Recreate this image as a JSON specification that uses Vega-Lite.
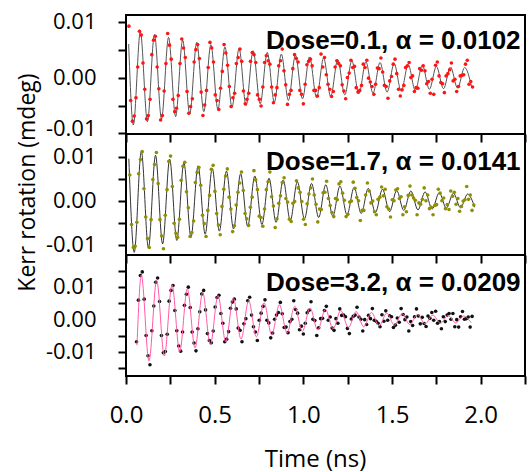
{
"$schema":"https://vega.github.io/schema/vega-lite/v6.json",
"padding":{"left":15,"top":9,"right":5,"bottom":0},
"bounds":"flush",
"spacing":0,
"config":{
 "view":{"stroke":"black","strokeWidth":2},
 "axis":{"domain":false,"grid":false,"tickColor":"black","tickWidth":2,"tickSize":8,"labelColor":"black","titleColor":"black","labelFont":"Open Sans","titleFont":"Open Sans","titleFontWeight":"normal","labelOverlap":false,"labelFlush":false,"labelBound":false,"titleLimit":1000,"labelLimit":1000},
 "axisY":{"labelFontSize":22,"labelPadding":22,"titleFontSize":23}
},
"datasets":{
"d1":[{"t":0.0164,"v":0.0092},{"t":0.0263,"v":-0.0041},{"t":0.0363,"v":-0.0078},{"t":0.0462,"v":-0.0069},{"t":0.0562,"v":-0.0036},{"t":0.0661,"v":0.0019},{"t":0.076,"v":0.0083},
{"t":0.086,"v":0.0076},{"t":0.0959,"v":0.0026},{"t":0.1058,"v":-0.0021},{"t":0.1158,"v":-0.0074},{"t":0.1257,"v":-0.0068},{"t":0.1357,"v":-0.0039},{"t":0.1456,"v":0.0041},{"t":0.1555,"v":0.0067},
{"t":0.1655,"v":0.0074},{"t":0.1754,"v":0.0019},{"t":0.1853,"v":-0.002},{"t":0.1953,"v":-0.0076},{"t":0.2052,"v":-0.0068},{"t":0.2152,"v":-0.0024},{"t":0.2251,"v":0.0025},{"t":0.235,"v":0.0079},
{"t":0.245,"v":0.0058},{"t":0.2549,"v":0.0033},{"t":0.2648,"v":-0.0039},{"t":0.2748,"v":-0.0061},{"t":0.2847,"v":-0.0055},{"t":0.2947,"v":-0.0032},{"t":0.3046,"v":0.0025},{"t":0.3145,"v":0.0069},
{"t":0.3245,"v":0.0053},{"t":0.3344,"v":0.0036},{"t":0.3443,"v":-0.0025},{"t":0.3543,"v":-0.0064},{"t":0.3642,"v":-0.0052},{"t":0.3742,"v":-0.0038},{"t":0.3841,"v":0.0028},{"t":0.394,"v":0.005},
{"t":0.404,"v":0.0059},{"t":0.4139,"v":0.0034},{"t":0.4238,"v":-0.0026},{"t":0.4338,"v":-0.0068},{"t":0.4437,"v":-0.0049},{"t":0.4537,"v":-0.0023},{"t":0.4636,"v":0.0018},{"t":0.4735,"v":0.0063},
{"t":0.4835,"v":0.0053},{"t":0.4934,"v":0.0028},{"t":0.5033,"v":-0.0031},{"t":0.5133,"v":-0.0041},{"t":0.5232,"v":-0.0057},{"t":0.5332,"v":-0.0019},{"t":0.5431,"v":0.0011},{"t":0.553,"v":0.0059},
{"t":0.563,"v":0.0044},{"t":0.5729,"v":0.0022},{"t":0.5828,"v":-0.0016},{"t":0.5928,"v":-0.0052},{"t":0.6027,"v":-0.0036},{"t":0.6127,"v":-0.0028},{"t":0.6226,"v":0.0025},{"t":0.6325,"v":0.0036},
{"t":0.6425,"v":0.0051},{"t":0.6524,"v":0.0029},{"t":0.6623,"v":-0.0024},{"t":0.6723,"v":-0.0047},{"t":0.6822,"v":-0.0039},{"t":0.6922,"v":-0.0028},{"t":0.7021,"v":0.0029},{"t":0.712,"v":0.0045},
{"t":0.722,"v":0.0041},{"t":0.7319,"v":0.0027},{"t":0.7418,"v":-0.0031},{"t":0.7518,"v":-0.0039},{"t":0.7617,"v":-0.0051},{"t":0.7717,"v":-0.0017},{"t":0.7816,"v":0.0027},{"t":0.7915,"v":0.0039},
{"t":0.8015,"v":0.003},{"t":0.8114,"v":0.0024},{"t":0.8213,"v":-0.0017},{"t":0.8313,"v":-0.0045},{"t":0.8412,"v":-0.0031},{"t":0.8512,"v":-0.0018},{"t":0.8611,"v":0.0021},{"t":0.871,"v":0.003},
{"t":0.881,"v":0.0051},{"t":0.8909,"v":0.0012},{"t":0.9008,"v":-0.0013},{"t":0.9108,"v":-0.0048},{"t":0.9207,"v":-0.003},{"t":0.9307,"v":-0.0023},{"t":0.9406,"v":0.0016},{"t":0.9505,"v":0.0041},
{"t":0.9605,"v":0.0034},{"t":0.9704,"v":0.0028},{"t":0.9803,"v":-0.0023},{"t":0.9903,"v":-0.003},{"t":1.0002,"v":-0.0047},{"t":1.0102,"v":-0.0012},{"t":1.0201,"v":0.0023},{"t":1.03,"v":0.0029},
{"t":1.04,"v":0.0033},{"t":1.0499,"v":0.0021},{"t":1.0598,"v":-0.0023},{"t":1.0698,"v":-0.0023},{"t":1.0797,"v":-0.0033},{"t":1.0897,"v":-0.0018},{"t":1.0996,"v":0.0042},{"t":1.1095,"v":0.0019},
{"t":1.1195,"v":0.0036},{"t":1.1294,"v":0.0005},{"t":1.1393,"v":-0.0012},{"t":1.1493,"v":-0.0021},{"t":1.1592,"v":-0.0034},{"t":1.1692,"v":-0.0025},{"t":1.1791,"v":0.0019},{"t":1.189,"v":0.003},
{"t":1.199,"v":0.0025},{"t":1.2089,"v":0.0021},{"t":1.2188,"v":-0.0013},{"t":1.2288,"v":-0.0024},{"t":1.2387,"v":-0.0038},{"t":1.2487,"v":0.0},{"t":1.2586,"v":0.0008},{"t":1.2685,"v":0.0031},
{"t":1.2785,"v":0.0018},{"t":1.2884,"v":0.002},{"t":1.2983,"v":-0.0018},{"t":1.3083,"v":-0.0026},{"t":1.3182,"v":-0.0023},{"t":1.3282,"v":-0.0014},{"t":1.3381,"v":0.0024},{"t":1.348,"v":0.0018},
{"t":1.358,"v":0.0031},{"t":1.3679,"v":-0.0001},{"t":1.3778,"v":-0.0008},{"t":1.3878,"v":-0.0016},{"t":1.3977,"v":-0.003},{"t":1.4077,"v":-0.0012},{"t":1.4176,"v":0.0017},{"t":1.4275,"v":0.0016},
{"t":1.4375,"v":0.0035},{"t":1.4474,"v":0.001},{"t":1.4573,"v":-0.0014},{"t":1.4673,"v":-0.0016},{"t":1.4772,"v":-0.0037},{"t":1.4872,"v":-0.0006},{"t":1.4971,"v":0.0002},{"t":1.507,"v":0.0024},
{"t":1.517,"v":0.0033},{"t":1.5269,"v":0.0007},{"t":1.5368,"v":-0.0021},{"t":1.5468,"v":-0.0033},{"t":1.5567,"v":-0.0022},{"t":1.5667,"v":-0.0014},{"t":1.5766,"v":0.0018},{"t":1.5865,"v":0.0021},
{"t":1.5965,"v":0.0027},{"t":1.6064,"v":0.0},{"t":1.6163,"v":0.0003},{"t":1.6263,"v":-0.0025},{"t":1.6362,"v":-0.0018},{"t":1.6462,"v":-0.0019},{"t":1.6561,"v":0.0016},{"t":1.666,"v":0.0013},
{"t":1.676,"v":0.0021},{"t":1.6859,"v":0.0012},{"t":1.6958,"v":-0.0011},{"t":1.7058,"v":-0.0007},{"t":1.7157,"v":-0.0028},{"t":1.7257,"v":-0.0003},{"t":1.7356,"v":-0.003},{"t":1.7455,"v":0.0022},
{"t":1.7555,"v":0.0028},{"t":1.7654,"v":0.0003},{"t":1.7753,"v":-0.0009},{"t":1.7853,"v":-0.0011},{"t":1.7952,"v":-0.0027},{"t":1.8052,"v":0.0003},{"t":1.8151,"v":0.0007},{"t":1.825,"v":0.0014},
{"t":1.835,"v":0.0026},{"t":1.8449,"v":-0.0006},{"t":1.8548,"v":-0.0003},{"t":1.8648,"v":-0.0025},{"t":1.8747,"v":-0.0016},{"t":1.8847,"v":0.0003},{"t":1.8946,"v":0.0004},{"t":1.9045,"v":0.0005},
{"t":1.9145,"v":0.0024},{"t":1.9244,"v":0.0031},{"t":1.9343,"v":-0.0012},{"t":1.9443,"v":-0.0007},{"t":1.9542,"v":-0.0017}],
"f1":[{"t":0.015,"v":0.006},{"t":0.0413,"v":-0.0085},{"t":0.081,"v":0.0082},{"t":0.1208,"v":-0.0079},{"t":0.1605,"v":0.0077},{"t":0.2003,"v":-0.0074},{"t":0.24,"v":0.0072},{"t":0.2798,"v":-0.007},{"t":0.3195,"v":0.0067},{"t":0.3593,"v":-0.0065},{"t":0.399,"v":0.0063},{"t":0.4388,"v":-0.0061},{"t":0.4785,"v":0.0059},{"t":0.5183,"v":-0.0057},{"t":0.558,"v":0.0055},{"t":0.5978,"v":-0.0053},{"t":0.6375,"v":0.0052},{"t":0.6773,"v":-0.005},{"t":0.717,"v":0.0048},{"t":0.7568,"v":-0.0047},{"t":0.7965,"v":0.0045},{"t":0.8363,"v":-0.0044},{"t":0.876,"v":0.0042},{"t":0.9158,"v":-0.0041},{"t":0.9555,"v":0.004},{"t":0.9953,"v":-0.0038},{"t":1.035,"v":0.0037},{"t":1.0748,"v":-0.0036},{"t":1.1145,"v":0.0035},{"t":1.1543,"v":-0.0034},{"t":1.194,"v":0.0032},{"t":1.2338,"v":-0.0031},{"t":1.2735,"v":0.003},{"t":1.3133,"v":-0.0029},{"t":1.353,"v":0.0028},{"t":1.3928,"v":-0.0028},{"t":1.4325,"v":0.0027},{"t":1.4723,"v":-0.0026},{"t":1.512,"v":0.0025},{"t":1.5518,"v":-0.0024},{"t":1.5915,"v":0.0023},{"t":1.6313,"v":-0.0023},{"t":1.671,"v":0.0022},{"t":1.7108,"v":-0.0021},{"t":1.7505,"v":0.002},{"t":1.7903,"v":-0.002},{"t":1.83,"v":0.0019},{"t":1.8698,"v":-0.0019},{"t":1.9095,"v":0.0018},{"t":1.9493,"v":-0.0017}],
"d2":[{"t":0.0214,"v":0.0058},{"t":0.0314,"v":-0.0054},{"t":0.0414,"v":-0.0106},{"t":0.0514,"v":-0.0103},{"t":0.0614,"v":-0.0049},{"t":0.0714,"v":0.0061},{"t":0.0814,"v":0.0093},
{"t":0.0914,"v":0.0111},{"t":0.1014,"v":0.0027},{"t":0.1114,"v":-0.0037},{"t":0.1214,"v":-0.0086},{"t":0.1314,"v":-0.0106},{"t":0.1414,"v":-0.0043},{"t":0.1514,"v":0.0048},{"t":0.1614,"v":0.0082},
{"t":0.1714,"v":0.0109},{"t":0.1814,"v":0.0039},{"t":0.1914,"v":-0.0043},{"t":0.2014,"v":-0.008},{"t":0.2114,"v":-0.0109},{"t":0.2214,"v":-0.0033},{"t":0.2314,"v":0.0025},{"t":0.2414,"v":0.0089},
{"t":0.2514,"v":0.0101},{"t":0.2614,"v":0.0032},{"t":0.2714,"v":-0.0051},{"t":0.2814,"v":-0.0074},{"t":0.2914,"v":-0.0083},{"t":0.3014,"v":-0.0042},{"t":0.3114,"v":0.0046},{"t":0.3214,"v":0.0078},
{"t":0.3314,"v":0.0087},{"t":0.3414,"v":0.002},{"t":0.3514,"v":-0.0016},{"t":0.3614,"v":-0.0081},{"t":0.3714,"v":-0.0072},{"t":0.3814,"v":-0.0046},{"t":0.3914,"v":0.0041},{"t":0.4014,"v":0.0064},
{"t":0.4114,"v":0.0075},{"t":0.4214,"v":0.0035},{"t":0.4314,"v":-0.0033},{"t":0.4414,"v":-0.0052},{"t":0.4514,"v":-0.0081},{"t":0.4614,"v":-0.0022},{"t":0.4714,"v":0.0012},{"t":0.4814,"v":0.0071},
{"t":0.4914,"v":0.008},{"t":0.5014,"v":0.0021},{"t":0.5114,"v":-0.0029},{"t":0.5214,"v":-0.0055},{"t":0.5314,"v":-0.0077},{"t":0.5414,"v":-0.0013},{"t":0.5514,"v":0.0026},{"t":0.5614,"v":0.0056},
{"t":0.5714,"v":0.0072},{"t":0.5814,"v":0.0008},{"t":0.5914,"v":-0.0019},{"t":0.6014,"v":-0.007},{"t":0.6114,"v":-0.0057},{"t":0.6214,"v":-0.001},{"t":0.6314,"v":0.0019},{"t":0.6414,"v":0.004},
{"t":0.6514,"v":0.0065},{"t":0.6614,"v":0.0023},{"t":0.6714,"v":-0.0029},{"t":0.6814,"v":-0.0041},{"t":0.6914,"v":-0.0056},{"t":0.7014,"v":-0.0015},{"t":0.7114,"v":0.0008},{"t":0.7214,"v":0.0068},
{"t":0.7314,"v":0.0047},{"t":0.7414,"v":0.0025},{"t":0.7514,"v":-0.0035},{"t":0.7614,"v":-0.0038},{"t":0.7714,"v":-0.0058},{"t":0.7814,"v":-0.0019},{"t":0.7914,"v":0.0025},{"t":0.8014,"v":0.0043},
{"t":0.8114,"v":0.0065},{"t":0.8214,"v":0.0009},{"t":0.8314,"v":-0.0012},{"t":0.8414,"v":-0.0061},{"t":0.8514,"v":-0.0041},{"t":0.8614,"v":-0.0006},{"t":0.8714,"v":0.0011},{"t":0.8814,"v":0.0041},
{"t":0.8914,"v":0.0052},{"t":0.9014,"v":0.0005},{"t":0.9114,"v":-0.0003},{"t":0.9214,"v":-0.0042},{"t":0.9314,"v":-0.0047},{"t":0.9414,"v":-0.0006},{"t":0.9514,"v":-0.0002},{"t":0.9614,"v":0.0045},
{"t":0.9714,"v":0.0029},{"t":0.9814,"v":0.0019},{"t":0.9914,"v":-0.0002},{"t":1.0014,"v":-0.0042},{"t":1.0114,"v":-0.0054},{"t":1.0214,"v":-0.0007},{"t":1.0314,"v":0.0015},{"t":1.0414,"v":0.0029},
{"t":1.0514,"v":0.0049},{"t":1.0614,"v":0.0013},{"t":1.0714,"v":-0.0008},{"t":1.0814,"v":-0.0048},{"t":1.0914,"v":-0.0019},{"t":1.1014,"v":-0.002},{"t":1.1114,"v":0.0018},{"t":1.1214,"v":0.0019},
{"t":1.1314,"v":0.0044},{"t":1.1414,"v":0.0005},{"t":1.1514,"v":-0.0011},{"t":1.1614,"v":-0.0027},{"t":1.1714,"v":-0.0036},{"t":1.1814,"v":0.0005},{"t":1.1914,"v":0.0002},{"t":1.2014,"v":0.0038},
{"t":1.2114,"v":0.0043},{"t":1.2214,"v":0.0017},{"t":1.2314,"v":0.0001},{"t":1.2414,"v":-0.0036},{"t":1.2514,"v":-0.0031},{"t":1.2614,"v":-0.0003},{"t":1.2714,"v":-0.0001},{"t":1.2814,"v":0.0042},
{"t":1.2914,"v":0.0028},{"t":1.3014,"v":0.0007},{"t":1.3114,"v":0.0},{"t":1.3214,"v":-0.0045},{"t":1.3314,"v":-0.0022},{"t":1.3414,"v":-0.0022},{"t":1.3514,"v":0.0013},{"t":1.3614,"v":0.004},
{"t":1.3714,"v":0.0022},{"t":1.3814,"v":-0.0005},{"t":1.3914,"v":-0.0001},{"t":1.4014,"v":-0.0025},{"t":1.4114,"v":-0.0032},{"t":1.4214,"v":0.0003},{"t":1.4314,"v":0.0008},{"t":1.4414,"v":0.0031},
{"t":1.4514,"v":0.0011},{"t":1.4614,"v":0.0026},{"t":1.4714,"v":-0.0014},{"t":1.4814,"v":-0.0019},{"t":1.4914,"v":-0.0037},{"t":1.5014,"v":0.0002},{"t":1.5114,"v":0.0},{"t":1.5214,"v":0.0024},
{"t":1.5314,"v":0.0027},{"t":1.5414,"v":0.0005},{"t":1.5514,"v":0.0009},{"t":1.5614,"v":-0.0032},{"t":1.5714,"v":-0.0014},{"t":1.5814,"v":-0.0025},{"t":1.5914,"v":0.0012},{"t":1.6014,"v":0.0033},
{"t":1.6114,"v":0.0013},{"t":1.6214,"v":0.0006},{"t":1.6314,"v":0.0001},{"t":1.6414,"v":-0.0032},{"t":1.6514,"v":-0.0005},{"t":1.6614,"v":-0.0008},{"t":1.6714,"v":0.0003},{"t":1.6814,"v":0.0029},
{"t":1.6914,"v":0.0},{"t":1.7014,"v":0.0013},{"t":1.7114,"v":-0.0018},{"t":1.7214,"v":-0.0015},{"t":1.7314,"v":-0.0032},{"t":1.7414,"v":-0.0011},{"t":1.7514,"v":-0.0009},{"t":1.7614,"v":0.0026},
{"t":1.7714,"v":0.0017},{"t":1.7814,"v":0.0},{"t":1.7914,"v":0.0006},{"t":1.8014,"v":-0.0018},{"t":1.8114,"v":-0.0009},{"t":1.8214,"v":-0.002},{"t":1.8314,"v":0.0022},{"t":1.8414,"v":0.001},
{"t":1.8514,"v":0.0019},{"t":1.8614,"v":-0.0008},{"t":1.8714,"v":0.0005},{"t":1.8814,"v":-0.0024},{"t":1.8914,"v":-0.0013},{"t":1.9014,"v":-0.0001},{"t":1.9114,"v":0.0002},{"t":1.9214,"v":0.0032},
{"t":1.9314,"v":0.0003},{"t":1.9414,"v":0.0013},{"t":1.9514,"v":-0.0022},{"t":1.9614,"v":-0.001}],
"f2":[{"t":0.016,"v":0.0095},{"t":0.0464,"v":-0.0117},{"t":0.0864,"v":0.0112},{"t":0.1264,"v":-0.0107},{"t":0.1664,"v":0.0103},{"t":0.2064,"v":-0.0098},{"t":0.2464,"v":0.0094},{"t":0.2864,"v":-0.009},{"t":0.3264,"v":0.0086},{"t":0.3664,"v":-0.0083},{"t":0.4064,"v":0.0079},{"t":0.4464,"v":-0.0076},{"t":0.4864,"v":0.0073},{"t":0.5264,"v":-0.0069},{"t":0.5664,"v":0.0067},{"t":0.6064,"v":-0.0064},{"t":0.6464,"v":0.0061},{"t":0.6864,"v":-0.0058},{"t":0.7264,"v":0.0056},{"t":0.7664,"v":-0.0054},{"t":0.8064,"v":0.0051},{"t":0.8464,"v":-0.0049},{"t":0.8864,"v":0.0047},{"t":0.9264,"v":-0.0045},{"t":0.9664,"v":0.0043},{"t":1.0064,"v":-0.0041},{"t":1.0464,"v":0.0039},{"t":1.0864,"v":-0.0038},{"t":1.1264,"v":0.0036},{"t":1.1664,"v":-0.0035},{"t":1.2064,"v":0.0033},{"t":1.2464,"v":-0.0032},{"t":1.2864,"v":0.003},{"t":1.3264,"v":-0.0029},{"t":1.3664,"v":0.0028},{"t":1.4064,"v":-0.0027},{"t":1.4464,"v":0.0026},{"t":1.4864,"v":-0.0025},{"t":1.5264,"v":0.0023},{"t":1.5664,"v":-0.0022},{"t":1.6064,"v":0.0022},{"t":1.6464,"v":-0.0021},{"t":1.6864,"v":0.002},{"t":1.7264,"v":-0.0019},{"t":1.7664,"v":0.0018},{"t":1.8064,"v":-0.0017},{"t":1.8464,"v":0.0017},{"t":1.8864,"v":-0.0016},{"t":1.9264,"v":0.0015},{"t":1.9664,"v":-0.0015}],
"d3":[{"t":0.0594,"v":-0.0069},{"t":0.0702,"v":0.0059},{"t":0.081,"v":0.0135},
{"t":0.0918,"v":0.0146},{"t":0.1026,"v":0.0062},{"t":0.1134,"v":-0.005},{"t":0.1242,"v":-0.0112},{"t":0.1351,"v":-0.014},{"t":0.1459,"v":-0.0035},{"t":0.1567,"v":0.0041},{"t":0.1675,"v":0.0114},
{"t":0.1783,"v":0.0127},{"t":0.1891,"v":0.0055},{"t":0.1999,"v":-0.005},{"t":0.2107,"v":-0.0103},{"t":0.2216,"v":-0.0099},{"t":0.2324,"v":-0.0046},{"t":0.2432,"v":0.0056},{"t":0.254,"v":0.0089},
{"t":0.2648,"v":0.0104},{"t":0.2756,"v":0.0027},{"t":0.2864,"v":-0.0035},{"t":0.2972,"v":-0.0082},{"t":0.3081,"v":-0.0098},{"t":0.3189,"v":-0.0039},{"t":0.3297,"v":0.0043},{"t":0.3405,"v":0.0077},
{"t":0.3513,"v":0.0099},{"t":0.3621,"v":0.0036},{"t":0.3729,"v":-0.0039},{"t":0.3837,"v":-0.0073},{"t":0.3946,"v":-0.0097},{"t":0.4054,"v":-0.0029},{"t":0.4162,"v":0.0023},{"t":0.427,"v":0.0078},
{"t":0.4378,"v":0.0089},{"t":0.4486,"v":0.0029},{"t":0.4594,"v":-0.0044},{"t":0.4702,"v":-0.0065},{"t":0.4811,"v":-0.0072},{"t":0.4919,"v":-0.0036},{"t":0.5027,"v":0.0038},{"t":0.5135,"v":0.0067},
{"t":0.5243,"v":0.0074},{"t":0.5351,"v":0.0018},{"t":0.5459,"v":-0.0012},{"t":0.5567,"v":-0.0069},{"t":0.5676,"v":-0.0061},{"t":0.5784,"v":-0.0038},{"t":0.5892,"v":0.0034},{"t":0.6,"v":0.0053},
{"t":0.6108,"v":0.0062},{"t":0.6216,"v":0.0032},{"t":0.6324,"v":-0.0027},{"t":0.6432,"v":-0.0034},{"t":0.6541,"v":-0.0069},{"t":0.6649,"v":-0.0014},{"t":0.6757,"v":0.0002},{"t":0.6865,"v":0.0057},
{"t":0.6973,"v":0.0068},{"t":0.7081,"v":0.0013},{"t":0.7189,"v":-0.0023},{"t":0.7297,"v":-0.0039},{"t":0.7406,"v":-0.0065},{"t":0.7514,"v":-0.0003},{"t":0.7622,"v":0.0019},{"t":0.773,"v":0.004},
{"t":0.7838,"v":0.006},{"t":0.7946,"v":-0.0003},{"t":0.8054,"v":-0.0011},{"t":0.8162,"v":-0.0057},{"t":0.8271,"v":-0.0042},{"t":0.8379,"v":0.0},{"t":0.8487,"v":0.0013},{"t":0.8595,"v":0.0021},
{"t":0.8703,"v":0.0052},{"t":0.8811,"v":0.0017},{"t":0.8919,"v":-0.0025},{"t":0.9027,"v":-0.0024},{"t":0.9136,"v":-0.0041},{"t":0.9244,"v":-0.0007},{"t":0.9352,"v":0.0},{"t":0.946,"v":0.0057},
{"t":0.9568,"v":0.003},{"t":0.9676,"v":0.0019},{"t":0.9784,"v":-0.0032},{"t":0.9892,"v":-0.0021},{"t":1.0001,"v":-0.0045},{"t":1.0109,"v":-0.0012},{"t":1.0217,"v":0.002},{"t":1.0325,"v":0.0028},
{"t":1.0433,"v":0.0054},{"t":1.0541,"v":0.0},{"t":1.0649,"v":-0.0004},{"t":1.0757,"v":-0.005},{"t":1.0866,"v":-0.0026},{"t":1.0974,"v":0.0002},{"t":1.1082,"v":0.0003},{"t":1.119,"v":0.0027},
{"t":1.1298,"v":0.004},{"t":1.1406,"v":-0.0003},{"t":1.1514,"v":0.0007},{"t":1.1622,"v":-0.0027},{"t":1.1731,"v":-0.0034},{"t":1.1839,"v":0.0002},{"t":1.1947,"v":-0.0012},{"t":1.2055,"v":0.0032},
{"t":1.2163,"v":0.0012},{"t":1.2271,"v":0.0013},{"t":1.2379,"v":0.0008},{"t":1.2487,"v":-0.0028},{"t":1.2596,"v":-0.0044},{"t":1.2704,"v":0.0001},{"t":1.2812,"v":0.0009},{"t":1.292,"v":0.0013},
{"t":1.3028,"v":0.0037},{"t":1.3136,"v":0.0007},{"t":1.3244,"v":0.0},{"t":1.3352,"v":-0.0036},{"t":1.3461,"v":-0.0001},{"t":1.3569,"v":-0.0016},{"t":1.3677,"v":0.0012},{"t":1.3785,"v":0.0002},
{"t":1.3893,"v":0.0033},{"t":1.4001,"v":-0.0003},{"t":1.4109,"v":-0.0006},{"t":1.4217,"v":-0.0012},{"t":1.4326,"v":-0.0023},{"t":1.4434,"v":0.0014},{"t":1.4542,"v":-0.0006},{"t":1.465,"v":0.0026},
{"t":1.4758,"v":-0.0003},{"t":1.4866,"v":0.0011},{"t":1.4974,"v":0.0008},{"t":1.5082,"v":-0.0025},{"t":1.5191,"v":-0.0018},{"t":1.5299,"v":0.0004},{"t":1.5407,"v":-0.0009},{"t":1.5515,"v":0.0033},
{"t":1.5623,"v":0.0015},{"t":1.5731,"v":-0.0001},{"t":1.5839,"v":0.0007},{"t":1.5947,"v":-0.0036},{"t":1.6056,"v":-0.0007},{"t":1.6164,"v":-0.0019},{"t":1.6272,"v":0.0008},{"t":1.638,"v":0.0032},
{"t":1.6488,"v":0.001},{"t":1.6596,"v":-0.0014},{"t":1.6704,"v":0.0006},{"t":1.6812,"v":-0.0013},{"t":1.6921,"v":-0.0022},{"t":1.7029,"v":0.001},{"t":1.7137,"v":0.0003},{"t":1.7245,"v":0.0021},
{"t":1.7353,"v":-0.0003},{"t":1.7461,"v":0.0025},{"t":1.7569,"v":-0.0012},{"t":1.7677,"v":-0.0007},{"t":1.7786,"v":-0.0029},{"t":1.7894,"v":0.0008},{"t":1.8002,"v":-0.0007},{"t":1.811,"v":0.0013},
{"t":1.8218,"v":0.0018},{"t":1.8326,"v":0.0},{"t":1.8434,"v":0.0018},{"t":1.8542,"v":-0.0023},{"t":1.8651,"v":-0.0001},{"t":1.8759,"v":-0.0024},{"t":1.8867,"v":0.0008},{"t":1.8975,"v":0.0024},
{"t":1.9083,"v":0.0},{"t":1.9191,"v":0.0002},{"t":1.9299,"v":0.0007},{"t":1.9407,"v":-0.0024},{"t":1.9516,"v":0.0009}],
"f3":[{"t":0.062,"v":-0.008},{"t":0.0864,"v":0.0136},{"t":0.1297,"v":-0.0128},{"t":0.1729,"v":0.012},{"t":0.2162,"v":-0.0113},{"t":0.2594,"v":0.0106},{"t":0.3027,"v":-0.01},{"t":0.3459,"v":0.0094},{"t":0.3892,"v":-0.0088},{"t":0.4324,"v":0.0083},{"t":0.4757,"v":-0.0078},{"t":0.5189,"v":0.0073},{"t":0.5622,"v":-0.0069},{"t":0.6054,"v":0.0065},{"t":0.6487,"v":-0.0061},{"t":0.6919,"v":0.0057},{"t":0.7352,"v":-0.0054},{"t":0.7784,"v":0.0051},{"t":0.8217,"v":-0.0048},{"t":0.8649,"v":0.0045},{"t":0.9082,"v":-0.0042},{"t":0.9514,"v":0.004},{"t":0.9947,"v":-0.0037},{"t":1.0379,"v":0.0035},{"t":1.0812,"v":-0.0033},{"t":1.1244,"v":0.0031},{"t":1.1677,"v":-0.0029},{"t":1.2109,"v":0.0027},{"t":1.2542,"v":-0.0026},{"t":1.2974,"v":0.0024},{"t":1.3407,"v":-0.0023},{"t":1.3839,"v":0.0021},{"t":1.4272,"v":-0.002},{"t":1.4704,"v":0.0019},{"t":1.5137,"v":-0.0018},{"t":1.5569,"v":0.0017},{"t":1.6002,"v":-0.0016},{"t":1.6434,"v":0.0015},{"t":1.6867,"v":-0.0014},{"t":1.7299,"v":0.0013},{"t":1.7732,"v":-0.0012},{"t":1.8164,"v":0.0012},{"t":1.8597,"v":-0.0011},{"t":1.9029,"v":0.001},{"t":1.9462,"v":-0.001}]
},
"vconcat":[
{"width":399,"height":119,
 "resolve":{"axis":{"y":"independent"}},
 "layer":[
  {"data":{"name":"f1"},"mark":{"type":"line","interpolate":"monotone","color":"#555555","strokeWidth":1},
   "encoding":{
    "x":{"field":"t","type":"quantitative","scale":{"domain":[0,2.25],"nice":false,"zero":false},"axis":{"values":[0,0.25,0.5,0.75,1,1.25,1.5,1.75,2,2.25],"labels":false,"title":null}},
    "y":{"field":"v","type":"quantitative","scale":{"domain":[-0.0101,0.0112],"nice":false,"zero":false},"axis":{"orient":"left","values":[0,0.01],"title":null,"labelExpr":"datum.value > 0.001 ? '0.01' : '0.00'"}}
   }},
  {"data":{"name":"d1"},"mark":{"type":"circle","size":13,"color":"#ff1414","opacity":1},
   "encoding":{"x":{"field":"t","type":"quantitative"},"y":{"field":"v","type":"quantitative","axis":{"orient":"left","values":[-0.005,0.005],"labels":false,"title":null}}}},
  {"data":{"values":[{"t":2.225,"v":0.0066,"s":"Dose=0.1, α = 0.0102"}]},"mark":{"type":"text","align":"right","baseline":"middle","font":"Liberation Sans","fontWeight":"bold","fontSize":26,"color":"black"},
   "encoding":{"x":{"field":"t","type":"quantitative"},"y":{"field":"v","type":"quantitative","axis":{"orient":"left","values":[-0.01],"title":null,"labelOffset":-5,"labelExpr":"'-0.01'"}},"text":{"field":"s"}}}
 ]},
{"width":399,"height":121,
 "resolve":{"axis":{"y":"independent"}},
 "layer":[
  {"data":{"name":"f2"},"mark":{"type":"line","interpolate":"monotone","color":"#333333","strokeWidth":1},
   "encoding":{
    "x":{"field":"t","type":"quantitative","scale":{"domain":[0,2.25],"nice":false,"zero":false},"axis":{"values":[0,0.25,0.5,0.75,1,1.25,1.5,1.75,2,2.25],"labels":false,"title":null}},
    "y":{"field":"v","type":"quantitative","scale":{"domain":[-0.0123,0.0151],"nice":false,"zero":false},"axis":{"orient":"left","values":[-0.01,0,0.01],"title":"Kerr rotation (mdeg)","titleFontSize":23,"titleLimit":600,"titleX":-99,"titleY":48,"titleAngle":270,"titleAlign":"center","titleBaseline":"middle","labelExpr":"datum.value < -0.001 ? '-0.01' : datum.value > 0.001 ? '0.01' : '0.00'"}}
   }},
  {"data":{"name":"d2"},"mark":{"type":"circle","size":13,"color":"#8f8f05","opacity":1},
   "encoding":{"x":{"field":"t","type":"quantitative"},"y":{"field":"v","type":"quantitative","axis":{"orient":"left","values":[-0.005,0.005],"labels":false,"title":null}}}},
  {"data":{"values":[{"t":2.225,"v":0.0087,"s":"Dose=1.7, α = 0.0141"}]},"mark":{"type":"text","align":"right","baseline":"middle","font":"Liberation Sans","fontWeight":"bold","fontSize":26,"color":"black"},
   "encoding":{"x":{"field":"t","type":"quantitative"},"y":{"field":"v","type":"quantitative","axis":null},"text":{"field":"s"}}}
 ]},
{"width":399,"height":121,
 "resolve":{"axis":{"y":"independent"}},
 "layer":[
  {"data":{"name":"d3"},"mark":{"type":"circle","size":13,"color":"#111111","opacity":1},
   "encoding":{
    "x":{"field":"t","type":"quantitative","scale":{"domain":[0,2.25],"nice":false,"zero":false},"axis":{"values":[0,0.25,0.5,0.75,1,1.25,1.5,1.75,2,2.25],"title":"Time (ns)","titleFontSize":24,"titleX":189,"titleY":83,"titleAlign":"center","titleBaseline":"middle","labelFontSize":24,"labelPadding":19,"labelExpr":"abs(datum.value*2 - round(datum.value*2)) < 0.001 ? format(datum.value, '.1f') : ''"}},
    "y":{"field":"v","type":"quantitative","scale":{"domain":[-0.01745,0.0198],"nice":false,"zero":false},"axis":{"orient":"left","values":[-0.01,0,0.01],"title":null,"labelExpr":"datum.value < -0.001 ? '-0.01' : datum.value > 0.001 ? '0.01' : '0.00'"}}
   }},
  {"data":{"name":"f3"},"mark":{"type":"line","interpolate":"monotone","color":"#ff5aa8","strokeWidth":1},
   "encoding":{"x":{"field":"t","type":"quantitative"},"y":{"field":"v","type":"quantitative","axis":{"orient":"left","values":[-0.015,-0.005,0.005,0.015],"labels":false,"title":null}}}},
  {"data":{"values":[{"t":2.225,"v":0.0112,"s":"Dose=3.2, α = 0.0209"}]},"mark":{"type":"text","align":"right","baseline":"middle","font":"Liberation Sans","fontWeight":"bold","fontSize":26,"color":"black"},
   "encoding":{"x":{"field":"t","type":"quantitative"},"y":{"field":"v","type":"quantitative","axis":null},"text":{"field":"s"}}}
 ]}
]
}
